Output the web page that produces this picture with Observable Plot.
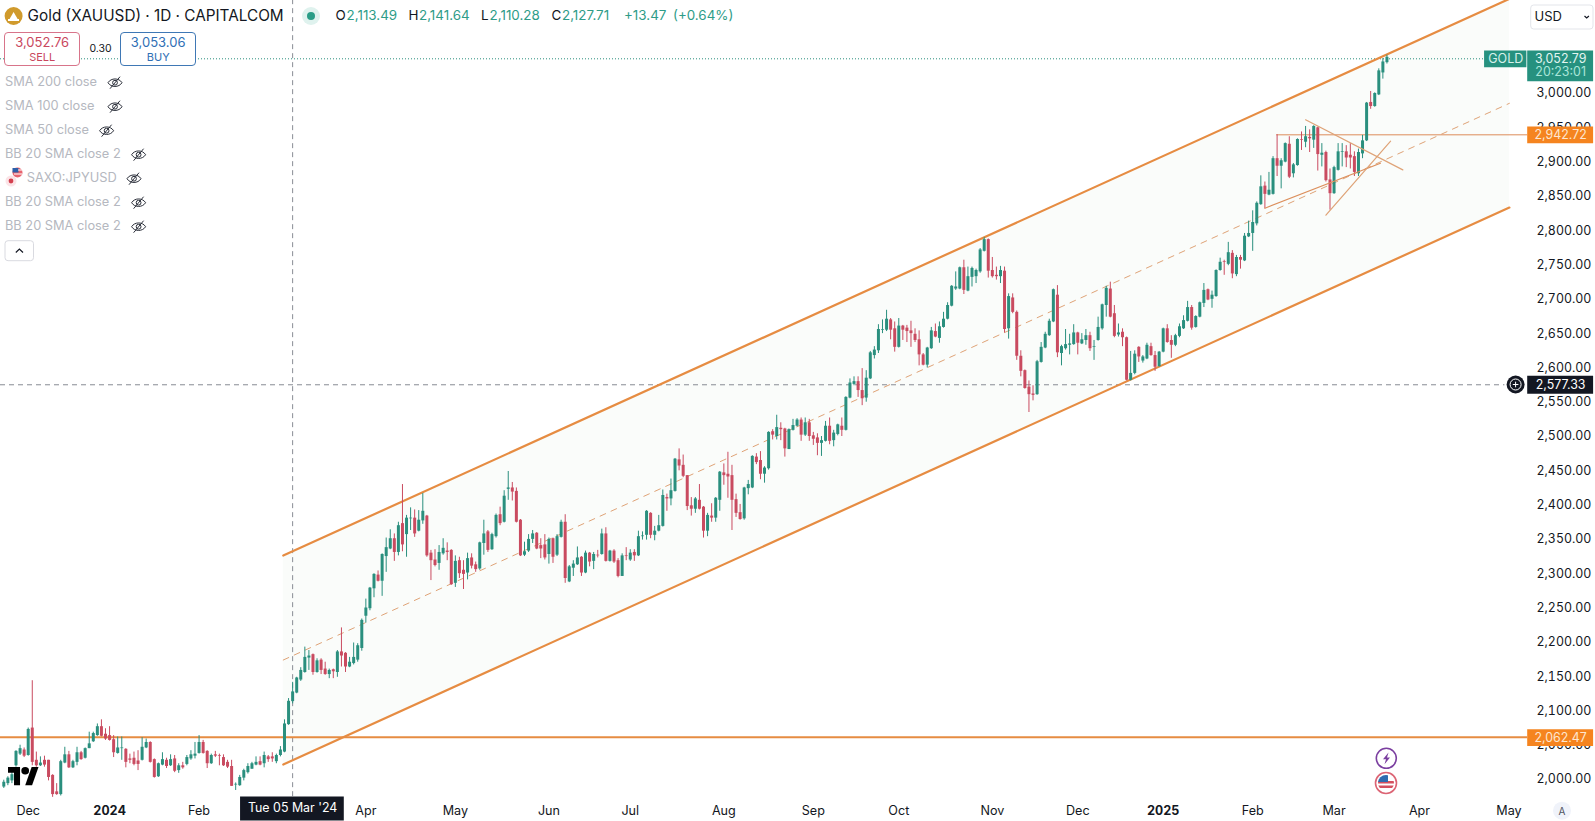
<!DOCTYPE html>
<html><head><meta charset="utf-8">
<script src="https://cdn.jsdelivr.net/npm/d3@7"></script>
<script src="https://cdn.jsdelivr.net/npm/@observablehq/plot@0.6"></script>
<style>
html,body{margin:0;padding:0;background:#fff;overflow:hidden}
#wrap{position:relative;width:1595px;height:821px;font-family:Inter,sans-serif;color:#131722}
#wrap svg{display:block}
.t{position:absolute;white-space:nowrap;line-height:1}
.box{position:absolute;box-sizing:border-box;background:#fff;border-radius:4px}
</style></head><body><div id="wrap"></div>
<script>
// Daily candles, each [open, high, low, close]
const late2023=[[1989,1999,1987,1996],[1994,2004,1991,2002],[1998,2011,1994,2007],[2020,2042,2018,2041],[2037,2050,2035,2045],[2043,2046,2032,2034],[2035,2075,2034,2073],[2075,2144,2020,2025],[2028,2040,2018,2020],[2020,2033,2019,2024],[2028,2034,2018,2021],[2028,2028,1998,2003],[2006,2007,1974,1978],[1982,1994,1977,1978],[1978,2028,1976,2026],[2024,2047,2023,2036],[2036,2041,2016,2017],[2017,2028,2016,2026],[2025,2047,2020,2039],[2039,2041,2028,2029],[2031,2046,2030,2045],[2045,2069,2045,2052],[2055,2069,2054,2067],[2064,2081,2063,2077],[2077,2087,2062,2063],[2066,2074,2057,2059]];
const q1of2024=[[2064,2077,2056,2057],[2058,2064,2032,2039],[2038,2062,2037,2046],[2045,2062,2028,2046],[2044,2045,2017,2025],[2030,2037,2023,2028],[2031,2040,2020,2022],[2027,2042,2013,2022],[2028,2061,2027,2047],[2046,2059,2045,2054],[2054,2055,2024,2025],[2029,2030,2002,2003],[2004,2024,2003,2023],[2021,2039,2020,2029],[2028,2031,2016,2019],[2020,2036,2019,2029],[2030,2035,2010,2012],[2013,2023,2009,2020],[2020,2025,2015,2017],[2022,2035,2020,2032],[2030,2042,2028,2036],[2034,2054,2030,2037],[2038,2064,2037,2054],[2054,2057,2037,2038],[2041,2042,2016,2023],[2023,2037,2022,2035],[2036,2041,2032,2034],[2035,2037,2020,2034],[2032,2036,2019,2020],[2025,2028,2016,2018],[2019,2028,1990,1990],[1992,1995,1984,1993],[1991,2006,1990,2003],[2002,2015,1998,2013],[2010,2023,2008,2019],[2015,2025,2015,2023],[2021,2033,2020,2025],[2026,2033,2020,2021],[2023,2040,2017,2035],[2033,2035,2025,2029],[2033,2039,2025,2030],[2026,2037,2023,2035],[2035,2048,2033,2043],[2040,2087,2039,2081],[2080,2118,2079,2114],[2113.49,2141.64,2110.28,2127.71],[2126,2149,2125,2148],[2145,2163,2143,2159],[2156,2193,2155,2178],[2177,2188,2159,2180],[2182,2183,2152,2156],[2156,2176,2155,2173],[2174,2176,2153,2159],[2161,2171,2152,2153],[2153,2161,2147,2159],[2160,2161,2147,2157],[2156,2188,2149,2186],[2186,2221,2164,2180],[2184,2185,2156,2164],[2164,2178,2163,2171],[2169,2199,2167,2178],[2174,2198,2171,2195],[2191,2234,2187,2232]];
const q2of2024=[[2238,2263,2228,2250],[2249,2280,2246,2279],[2278,2300,2265,2299],[2298,2304,2288,2289],[2289,2329,2267,2328],[2325,2352,2302,2338],[2336,2364,2335,2351],[2351,2358,2318,2331],[2331,2375,2326,2370],[2373,2430,2332,2342],[2357,2385,2324,2381],[2380,2396,2363,2381],[2381,2393,2353,2358],[2362,2392,2361,2378],[2377,2417,2372,2391],[2384,2385,2324,2326],[2330,2334,2290,2319],[2320,2335,2310,2312],[2315,2341,2305,2331],[2329,2351,2327,2337],[2333,2345,2319,2331],[2334,2335,2283,2284],[2286,2326,2280,2318],[2319,2324,2293,2300],[2305,2319,2277,2299],[2301,2330,2291,2322],[2323,2329,2307,2311],[2313,2317,2302,2306],[2307,2346,2305,2345],[2344,2378,2327,2358],[2361,2363,2331,2334],[2335,2359,2334,2357],[2354,2387,2352,2385],[2386,2397,2370,2373],[2375,2421,2374,2413],[2423,2449,2407,2425],[2425,2433,2406,2419],[2420,2425,2374,2375],[2378,2379,2325,2326],[2327,2346,2325,2332],[2333,2357,2331,2350],[2350,2363,2344,2358],[2359,2360,2335,2336],[2341,2351,2322,2336],[2342,2357,2320,2323],[2328,2352,2314,2350],[2351,2352,2315,2324],[2327,2357,2325,2354],[2353,2378,2352,2375],[2375,2386,2286,2293],[2288,2312,2287,2310],[2308,2319,2296,2314],[2313,2339,2312,2323],[2324,2325,2296,2301],[2301,2333,2300,2330],[2330,2331,2310,2317],[2318,2331,2306,2328],[2327,2334,2323,2326],[2328,2365,2327,2358],[2358,2367,2317,2318],[2318,2334,2317,2333],[2333,2335,2315,2317],[2319,2322,2294,2296],[2296,2329,2296,2326],[2326,2338,2319,2325]];
const q3of2024=[[2320,2335,2318,2330],[2331,2335,2318,2326],[2326,2362,2325,2354],[2354,2361,2349,2355],[2356,2392,2349,2391],[2388,2389,2351,2356],[2356,2369,2348,2362],[2362,2385,2361,2370],[2369,2422,2368,2414],[2411,2416,2391,2409],[2409,2438,2399,2421],[2420,2468,2419,2467],[2466,2482,2450,2457],[2458,2473,2440,2442],[2443,2443,2392,2398],[2399,2411,2384,2394],[2394,2411,2388,2409],[2407,2430,2393,2394],[2397,2398,2352,2362],[2362,2388,2354,2385],[2384,2402,2375,2381],[2381,2411,2375,2410],[2407,2449,2391,2448],[2447,2460,2429,2443],[2445,2477,2410,2441],[2443,2458,2363,2407],[2408,2416,2382,2388],[2389,2401,2378,2379],[2380,2426,2378,2425],[2424,2436,2415,2430],[2425,2472,2424,2471],[2470,2475,2459,2462],[2465,2478,2437,2445],[2445,2456,2432,2454],[2453,2507,2451,2506],[2507,2510,2495,2502],[2500,2531,2495,2513],[2512,2520,2494,2510],[2511,2512,2470,2482],[2481,2511,2481,2510],[2509,2525,2508,2516],[2515,2526,2514,2524],[2524,2527,2493,2502],[2502,2527,2500,2520],[2520,2525,2493,2500],[2501,2506,2487,2496],[2498,2504,2472,2490],[2490,2500,2471,2494],[2493,2522,2492,2515],[2515,2527,2488,2493],[2494,2509,2485,2505],[2503,2518,2501,2517],[2515,2527,2500,2509],[2509,2558,2508,2557],[2556,2584,2555,2578],[2576,2587,2574,2580],[2580,2587,2557,2567],[2567,2599,2545,2555],[2556,2596,2550,2585],[2584,2624,2583,2622],[2618,2631,2613,2626],[2625,2663,2621,2656],[2655,2670,2650,2656],[2655,2684,2653,2671],[2670,2672,2641,2655],[2657,2667,2623,2630]];
const q4of2024=[[2630,2672,2629,2661],[2661,2662,2640,2655],[2658,2662,2637,2653],[2654,2668,2630,2650],[2649,2657,2637,2640],[2641,2654,2603,2619],[2619,2621,2603,2604],[2604,2630,2600,2629],[2628,2659,2627,2654],[2653,2664,2644,2645],[2643,2667,2636,2660],[2659,2681,2658,2671],[2671,2695,2670,2691],[2690,2720,2689,2719],[2715,2740,2713,2718],[2715,2747,2714,2746],[2746,2757,2707,2713],[2712,2747,2711,2733],[2732,2747,2718,2745],[2733,2744,2723,2742],[2740,2774,2738,2772],[2770,2790,2769,2787],[2787,2788,2731,2741],[2742,2761,2731,2733],[2735,2747,2728,2733],[2733,2748,2723,2742],[2741,2747,2651,2656],[2657,2708,2642,2704],[2702,2708,2679,2681],[2681,2683,2611,2617],[2617,2625,2587,2595],[2596,2597,2569,2570],[2572,2581,2535,2561],[2562,2574,2552,2560],[2561,2611,2560,2609],[2608,2637,2607,2630],[2629,2652,2628,2649],[2647,2671,2646,2668],[2667,2715,2666,2714],[2706,2720,2615,2622],[2621,2633,2603,2631],[2628,2656,2626,2634],[2633,2649,2619,2635],[2634,2663,2633,2651],[2651,2652,2619,2636],[2635,2650,2634,2641],[2640,2656,2633,2647],[2647,2652,2624,2628],[2630,2640,2611,2631],[2640,2674,2639,2659],[2657,2693,2655,2692],[2691,2719,2674,2716],[2715,2725,2673,2674],[2679,2691,2644,2646],[2648,2664,2645,2651],[2652,2657,2631,2644],[2644,2645,2581,2582],[2582,2624,2581,2592],[2592,2625,2590,2620],[2630,2631,2608,2616],[2610,2618,2607,2616],[2613,2636,2612,2633],[2631,2636,2617,2618],[2618,2624,2595,2601],[2602,2624,2601,2623]];
const q1of2025=[[2623,2658,2622,2657],[2657,2663,2636,2637],[2640,2647,2614,2633],[2633,2649,2631,2647],[2646,2664,2644,2660],[2657,2676,2656,2669],[2668,2697,2667,2688],[2688,2691,2655,2658],[2659,2676,2658,2675],[2674,2696,2673,2695],[2694,2723,2688,2713],[2714,2715,2698,2699],[2700,2712,2687,2706],[2704,2743,2703,2742],[2742,2760,2741,2754],[2755,2757,2735,2754],[2751,2783,2749,2768],[2767,2771,2730,2737],[2736,2764,2733,2761],[2761,2764,2744,2757],[2756,2796,2755,2792],[2791,2814,2790,2796],[2796,2829,2770,2812],[2810,2842,2807,2840],[2838,2880,2837,2864],[2865,2871,2832,2853],[2852,2885,2851,2859],[2853,2908,2852,2905],[2905,2940,2879,2894],[2894,2905,2861,2902],[2900,2928,2899,2927],[2926,2937,2876,2878],[2883,2898,2877,2896],[2895,2934,2894,2933],[2933,2944,2917,2932],[2929,2952,2921,2937],[2936,2947,2914,2934],[2932,2953,2920,2952],[2950,2951,2887,2911],[2910,2927,2893,2913],[2914,2916,2871,2873],[2874,2890,2830,2854],[2854,2894,2853,2892],[2888,2927,2887,2915],[2914,2927,2893,2915],[2915,2924,2892,2906],[2910,2927,2890,2906],[2908,2915,2879,2885],[2883,2919,2879,2914],[2912,2939,2905,2931],[2931,2987,2930,2986],[2987,3003,2977,2981],[2981,3001,2980,3000],[2998,3036,2997,3033],[3030,3051,3021,3046],[3045,3056,3043,3052.79]];

// Axis ticks (positions are trading-day indices)
const monthTicks=[6,48,89,111,134,154,177,199,220,243,264,307,327,348,370];
const monthLabels=["Dec","Feb","Apr","May","Jun","Jul","Aug","Sep","Oct","Nov","Dec","Feb","Mar","Apr","May"];
const yearTicks=[26,285];
const yearLabels=["2024","2025"];
const priceTicks=[2000,2050,2100,2150,2200,2250,2300,2350,2400,2450,2500,2550,2600,2650,2700,2750,2800,2850,2900,2950,3000];

// Regression channel: start and end (bar index), upper, middle, lower price
const channelBars=[68.7,370.1];
const channelUpper=[2326.5,3138];
const channelMiddle=[2174.2,2985.7];
const channelLower=[2021.9,2833.8];

// Hand-drawn trend lines [bar, price, bar, price]
const triangleLow=[310,2832.8,338.4,2898.4];
const triangleHigh=[320,2961.7,343.9,2888.7];
const triangleRise=[325,2822.6,340.9,2930.5];

// Price levels
const lastPrice=3052.79, resistance=2942.72, support=2062.47, crossPrice=2577.33, crossBar=71, resistanceStart=312.9;
const legendRows=["SMA 200 close","SMA 100 close","SMA 50 close","BB 20 SMA close 2","SAXO:JPYUSD","BB 20 SMA close 2","BB 20 SMA close 2"];
const ohlc=[["O","2,113.49"],["H","2,141.64"],["L","2,110.28"],["C","2,127.71"]];

const rows=[...late2023,...q1of2024,...q2of2024,...q3of2024,...q4of2024,...q1of2025];
const candles=rows.map(([open,high,low,close],i)=>({i,open,high,low,close}));
const up=candles.filter(d=>d.close>=d.open), down=candles.filter(d=>d.close<d.open);
const GREEN="#2a8f7e",RED="#c94b60",OR="#e68c42",TAN="#dfa377",TAGOR="#f5841f",TEAL="#26917f",DARK="#131722";
const seg=(a,o)=>Plot.line([[a[0],a[1]],[a[2],a[3]]],o);
const tagA=374.6,tagB=390.8,tagMid=382.7,goldA=364,goldB=374.4;

const chan=channelBars.map((x,k)=>({x,u:channelUpper[k],m:channelMiddle[k],l:channelLower[k]}));
const chart=Plot.plot({
  width:1595,height:821,marginLeft:0,marginRight:70,marginTop:0,marginBottom:21,
  style:{background:"#fff",fontFamily:"Inter, sans-serif",overflow:"hidden"},
  x:{type:"linear",domain:[-0.81,374.06]},
  y:{type:"linear",domain:[1969.4,3135.6]},
  marks:[
    Plot.areaY(chan,{x:"x",y1:"l",y2:"u",fill:"#fafcfa"}),
    Plot.ruleY([lastPrice],{x1:-0.81,x2:364,stroke:"#2a8f7e",strokeWidth:1,strokeDasharray:"1,2",dy:1.5}),
    Plot.ruleY([crossPrice],{x1:-0.81,x2:369,stroke:"#888c94",strokeWidth:1,strokeDasharray:"5,4",dy:1.3}),
    Plot.ruleX([crossBar],{y1:1975,y2:3135.6,stroke:"#888c94",strokeWidth:1,strokeDasharray:"5,4"}),
    Plot.ruleY([support],{x1:-0.81,x2:374.6,stroke:OR,strokeWidth:2,dy:.6}),
    Plot.ruleY([resistance],{x1:resistanceStart,x2:374.6,stroke:"#dc8c5a",strokeWidth:1,dy:2}),
    Plot.line(chan,{x:"x",y:"u",stroke:OR,strokeWidth:2.2}),
    Plot.line(chan,{x:"x",y:"l",stroke:OR,strokeWidth:2.2}),
    Plot.line(chan,{x:"x",y:"m",stroke:TAN,strokeWidth:1,strokeDasharray:"6,6"}),
    Plot.ruleX(up,{x:"i",y1:"low",y2:"high",stroke:GREEN,strokeWidth:1}),
    Plot.ruleX(down,{x:"i",y1:"low",y2:"high",stroke:RED,strokeWidth:1}),
    Plot.ruleX(up,{x:"i",y1:"open",y2:"close",stroke:GREEN,strokeWidth:3}),
    Plot.ruleX(down,{x:"i",y1:"open",y2:"close",stroke:RED,strokeWidth:3}),
    seg(triangleLow,{stroke:"#dc8f5c",strokeWidth:1.2}),
    seg(triangleHigh,{stroke:TAN,strokeWidth:1.2}),
    seg(triangleRise,{stroke:TAN,strokeWidth:1.2}),
    Plot.axisY({anchor:"right",ticks:priceTicks,tickFormat:d3.format(",.2f"),tickSize:0,tickPadding:11,label:null,fontSize:12.4,textAnchor:"start",fill:DARK}),
    Plot.axisX(monthTicks,{tickFormat:i=>monthLabels[monthTicks.indexOf(i)],tickSize:0,tickPadding:5.5,label:null,fontSize:12.6,fill:DARK}),
    Plot.axisX(yearTicks,{tickFormat:i=>yearLabels[yearTicks.indexOf(i)],tickSize:0,tickPadding:5.5,label:null,fontSize:12.6,fontWeight:"bold",fill:DARK}),
    // price tags
    Plot.ruleY([lastPrice],{x1:goldA,x2:goldB,stroke:TEAL,strokeWidth:16.7,dy:1.5}),
    Plot.text([lastPrice],{x:(goldA+goldB)/2,y:d=>d,text:()=>"GOLD",fill:"#d6f0ea",fontSize:12.5,dy:1.5}),
    Plot.ruleY([lastPrice],{x1:tagA,x2:tagB,stroke:TEAL,strokeWidth:30.7,dy:8.6}),
    Plot.text([lastPrice],{x:tagMid,y:d=>d,text:()=>"3,052.79",fill:"#e3f5f1",fontSize:12.4,dy:1.5}),
    Plot.text([lastPrice],{x:tagMid,y:d=>d,text:()=>"20:23:01",fill:"#a9e6d9",fontSize:12.4,dy:15}),
    Plot.ruleY([resistance],{x1:tagA,x2:tagB,stroke:TAGOR,strokeWidth:16.7,dy:2}),
    Plot.text([resistance],{x:tagMid,y:d=>d,text:d=>d3.format(",.2f")(d),fill:"#fde6cf",fontSize:12.4,dy:2}),
    Plot.ruleY([support],{x1:tagA,x2:tagB,stroke:TAGOR,strokeWidth:16.7,dy:1}),
    Plot.text([support],{x:tagMid,y:d=>d,text:d=>d3.format(",.2f")(d),fill:"#fde6cf",fontSize:12.4,dy:1}),
    Plot.ruleY([crossPrice],{x1:tagA,x2:tagB,stroke:DARK,strokeWidth:18,dy:1.3}),
    Plot.text([crossPrice],{x:tagMid,y:d=>d,text:d=>d3.format(",.2f")(d),fill:"#fff",fontSize:12.4,dy:1.3}),
    Plot.ruleY([1957.7],{x1:58.2,x2:83.7,stroke:DARK,strokeWidth:24}),
    Plot.text([1957.7],{x:crossBar,y:d=>d,text:()=>"Tue 05 Mar '24",fill:"#fff",fontSize:12.4})
  ]
});
const wrap=document.getElementById("wrap");
wrap.appendChild(chart);

function T(s,x,cy,size,color,extra=""){
  const e=document.createElement("div");e.className="t";e.textContent=s;
  e.style.cssText=`left:${x}px;top:${cy-size/2}px;font-size:${size}px;color:${color};${extra}`;
  wrap.appendChild(e);return e;
}
function H(html){const d=document.createElement("div");d.style.cssText="position:absolute;left:0;top:0;pointer-events:none";d.innerHTML=html;wrap.appendChild(d);}
function B(x,y,w,h,css){const e=document.createElement("div");e.className="box";e.style.cssText=`left:${x}px;top:${y}px;width:${w}px;height:${h}px;${css}`;wrap.appendChild(e);}

// header
T("Gold (XAUUSD) · 1D · CAPITALCOM",27.6,16,15.3,"#131722");
const NUM="#2e9c88";
const keyX=[335.4,408.6,481,551.6], valX=[346.6,419,489.6,562];
ohlc.forEach(([k,v],n)=>{T(k,keyX[n],16,13.4,"#131722");T(v,valX[n],16,13.4,NUM);});
T("+13.47",624,16,13.4,NUM);T("(+0.64%)",673,16,13.4,NUM);
B(3.9,32.3,76.6,33.4,"border:1px solid #d8748a");
B(120.2,32.3,76.1,33.4,"border:1px solid #3f78b5");
T("3,052.76",42.2,42.7,13,"#c9475e","transform:translateX(-50%)");
T("SELL",42.2,57.2,11,"#c9475e","transform:translateX(-50%)");
T("0.30",100.5,49.7,10.5,"#131722","transform:translateX(-50%)");
T("3,053.06",158.2,42.7,13,"#2f6fb5","transform:translateX(-50%)");
T("BUY",158.2,57.2,11,"#2f6fb5","transform:translateX(-50%)");
// legend
const legendY=[82.7,106.7,130.7,154.7,178.7,202.7,226.7];
const eyeX=[115,115,106.6,138.6,134,138.6,138.6];
const eye=(x,y)=>`<g transform="translate(${x},${y})" fill="none" stroke="#2a2e39" stroke-width="1"><path d="M-7 0C-4-5 4-5 7 0C4 5-4 5-7 0Z"/><circle r="2.4"/><path d="M-5 6L5-6"/></g>`;
legendRows.forEach((s,n)=>{T(s,n===4?26.7:5,legendY[n],12.8,"#b5b8c0");});
H(`<svg width="1595" height="821" style="display:block">
${legendY.map((y,n)=>eye(eyeX[n],y)).join("")}
<circle cx="13.6" cy="16" r="9" fill="#d09a2c"/><path d="M9 20l4.6-8 4.6 8z" fill="#fff"/><rect x="8" y="19" width="11" height="2" fill="#fff"/>
<circle cx="311" cy="16" r="9" fill="#dff2ee"/><circle cx="311" cy="16" r="4" fill="#2a9d87"/>
<circle cx="11" cy="181" r="5.5" fill="#fbe4e7"/><circle cx="11" cy="181" r="2.4" fill="#d4404f"/>
<circle cx="17.5" cy="172.5" r="5" fill="#e8646f"/><rect x="12.5" y="168" width="6" height="4.5" fill="#2f5fa8"/><path d="M18 170h4M14 174h8" stroke="#fff"/>
<rect x="5" y="240.7" width="28.5" height="20" rx="3" fill="#fff" stroke="#d9dae0"/><path d="M15.8 252.5l3.6-3.4 3.6 3.4" fill="none" stroke="#131722" stroke-width="1.2"/>
<rect x="1530.7" y="5" width="62.3" height="24" rx="3" fill="#fff" stroke="#e3e5ea"/>
<path d="M1584.5 16l2.2 2 2.2-2" fill="none" stroke="#131722" stroke-width="1.2"/>
<g transform="translate(8,767) scale(.86,.83)" fill="#000"><path d="M14 22H7V7H0V0h14z"/><path d="M28 22h-8l7.5-22h8z"/><circle cx="20" cy="4.5" r="4.5"/></g>
<circle cx="1515.6" cy="384.5" r="9" fill="#131722"/><circle cx="1515.6" cy="384.5" r="5.5" fill="none" stroke="#fff"/><path d="M1512.8 384.5h5.6M1515.6 381.7v5.6" stroke="#fff"/>
<circle cx="1386.3" cy="758.3" r="10" fill="#fff" stroke="#7b3fa0" stroke-width="1.6"/><path d="M1388.5 752.5l-5.5 6.8h3l-1.5 5 5.5-6.8h-3z" fill="#7b3fa0"/>
<circle cx="1386" cy="783" r="10.5" fill="#fff" stroke="#dc6474" stroke-width="1.6"/><clipPath id="us"><circle cx="1386" cy="783" r="8"/></clipPath>
<g clip-path="url(#us)"><rect x="1378" y="775" width="16" height="16" fill="#fff"/><rect x="1378" y="781" width="16" height="2.5" fill="#d4505f"/><rect x="1378" y="785.5" width="16" height="2.5" fill="#d4505f"/><rect x="1378" y="775" width="10" height="7" fill="#2f6cb0"/></g>
<circle cx="1562" cy="810.7" r="9" fill="#f0f3fa"/>
</svg>`);
T("USD",1534.5,16.5,13,"#131722");
T("A",1562,811,10,"#50535e","transform:translateX(-50%)");
</script></body></html>
